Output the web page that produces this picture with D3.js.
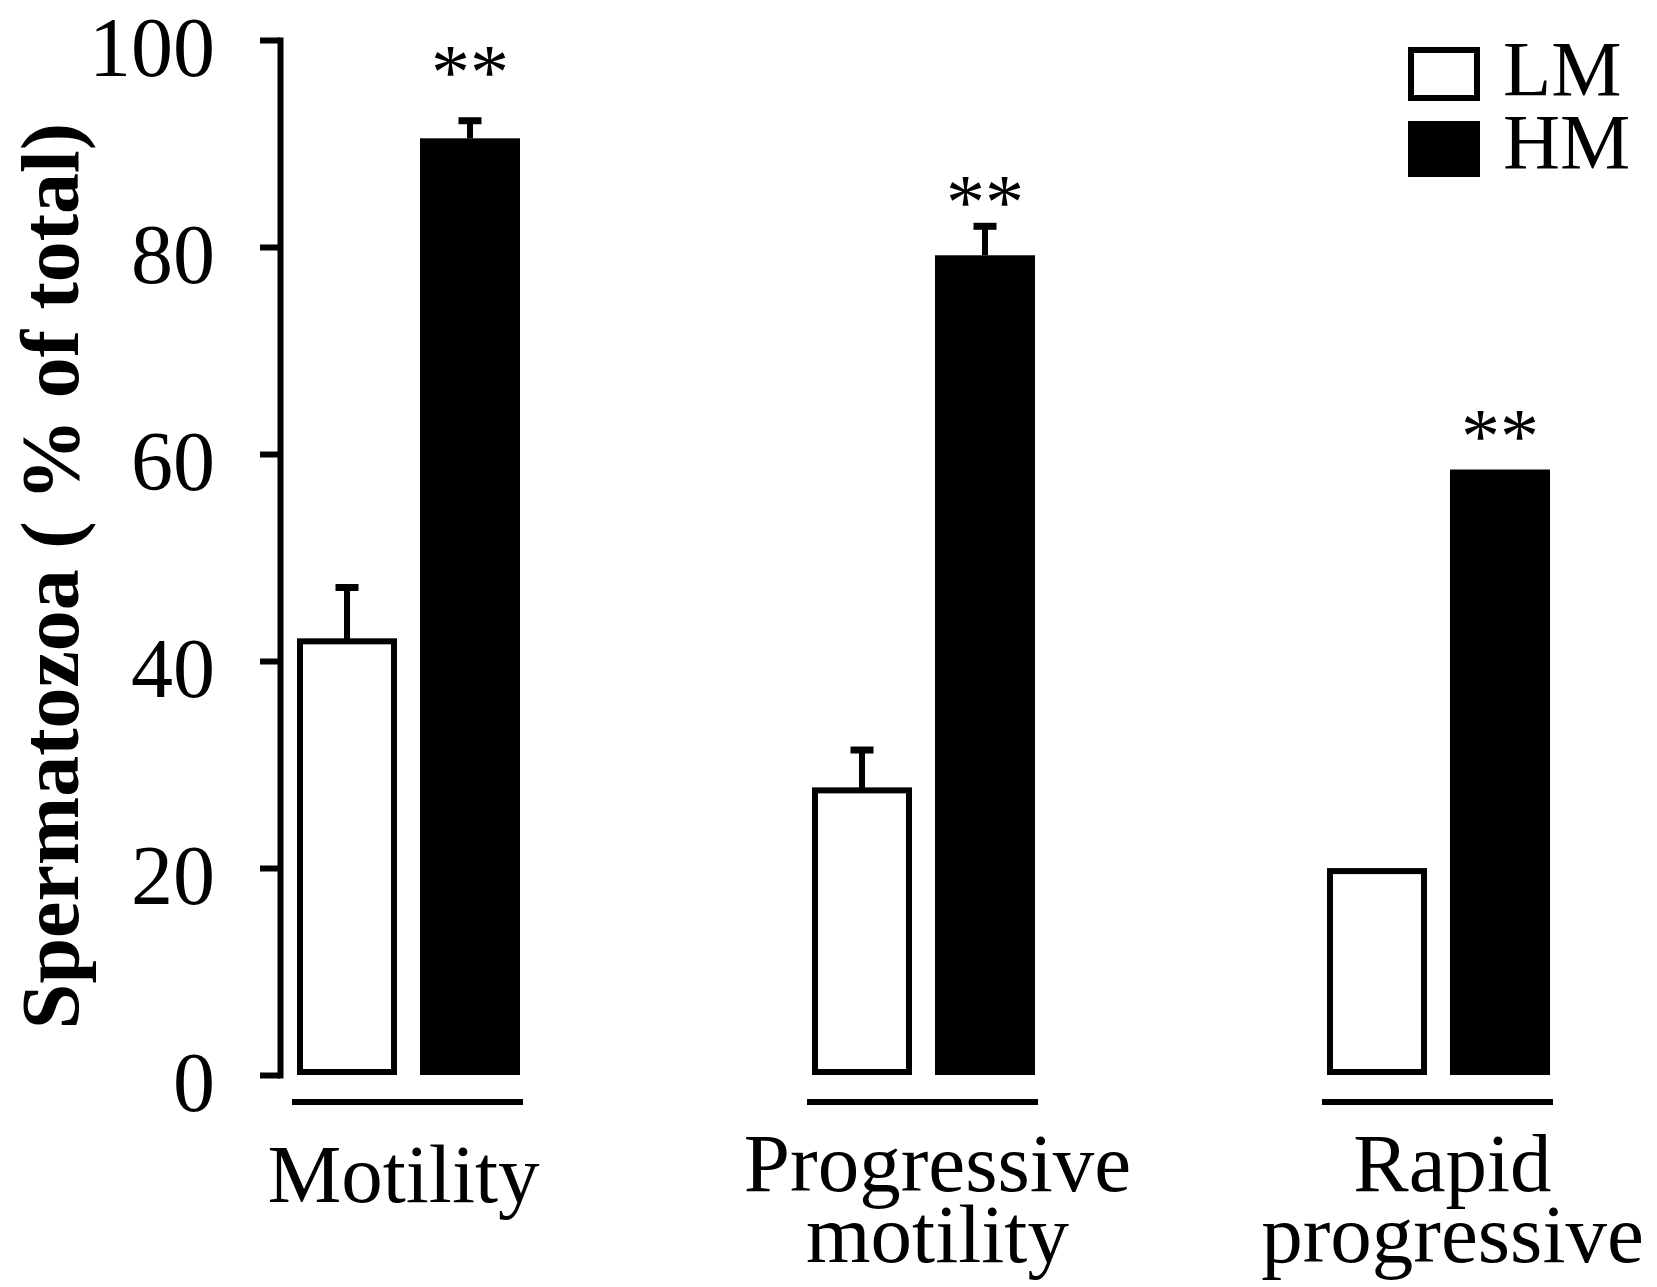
<!DOCTYPE html>
<html>
<head>
<meta charset="utf-8">
<script src="https://cdn.jsdelivr.net/npm/d3@7"></script>
<style>
  html, body { margin: 0; padding: 0; background: #fff; }
  svg { display: block; font-family: "Liberation Serif", "Times New Roman", serif; }
</style>
</head>
<body>
<div id="chart"></div>
<script>
// Values
const categories = ["Motility", "Progressive motility", "Rapid progressive"];
const categoryLines = [["Motility"], ["Progressive", "motility"], ["Rapid", "progressive"]];
const groups = ["LM", "HM"];
const lmValues = [41.9, 27.5, 19.7];
const lmErrors = [5.2, 3.9, 0];
const hmValues = [90.5, 79.2, 58.5];
const hmErrors = [1.7, 2.8, 0];
const sigLabels = ["**", "**", "**"];
const sigLevels = [94.4, 81.8, 59.2]; // height of the ** marks, in % units
const yTicks = [0, 20, 40, 60, 80, 100];
const yLabel = "Spermatozoa ( % of total)";

const width = 1657;
const height = 1287;
const stroke = 6;

const svg = d3.select("#chart")
  .append("svg")
  .attr("width", width)
  .attr("height", height);

// Scales
const x = d3.scaleBand()
  .domain(categories)
  .range([297, 1550])
  .paddingInner(0.567)
  .paddingOuter(0);
const xSub = d3.scaleBand()
  .domain(groups)
  .range([0, x.bandwidth()])
  .paddingInner(0.187);
const y = d3.scaleLinear()
  .domain([0, 100])
  .range([1075, 40]);

// Y axis
const yAxis = svg.append("g")
  .attr("transform", "translate(280,0)")
  .call(d3.axisLeft(y)
    .tickValues(yTicks)
    .tickSize(20)
    .tickSizeOuter(0)
    .tickPadding(45));
yAxis.attr("font-family", null).attr("font-size", null);
yAxis.select(".domain")
  .attr("stroke", "#000")
  .attr("stroke-width", stroke)
  .attr("stroke-linecap", "square");
yAxis.selectAll(".tick line")
  .attr("stroke", "#000")
  .attr("stroke-width", stroke);
yAxis.selectAll(".tick text")
  .attr("fill", "#000")
  .attr("font-size", 84)
  .attr("dy", "0.42em");

// Axis title
svg.append("text")
  .attr("transform", "translate(78,576) rotate(-90)")
  .attr("text-anchor", "middle")
  .attr("font-size", 82)
  .attr("font-weight", "bold")
  .text(yLabel);

// Bars
const rows = categories.map((c, i) => ({
  cat: c,
  lm: lmValues[i], lmErr: lmErrors[i],
  hm: hmValues[i], hmErr: hmErrors[i],
  sig: sigLabels[i], sigLevel: sigLevels[i],
  lines: categoryLines[i]
}));

const g = svg.append("g");
const bw = xSub.bandwidth();

rows.forEach(d => {
  const x0 = x(d.cat);
  const lmX = x0 + xSub("LM");
  const hmX = x0 + xSub("HM");

  // error bars (drawn first so the bars sit on top of the stems)
  [[lmX, d.lm, d.lmErr], [hmX, d.hm, d.hmErr]].forEach(([bx, v, e]) => {
    if (!e) return;
    const cx = bx + bw / 2;
    g.append("line")
      .attr("x1", cx).attr("x2", cx)
      .attr("y1", y(v)).attr("y2", y(v + e))
      .attr("stroke", "#000").attr("stroke-width", 6);
    g.append("line")
      .attr("x1", cx - 11.5).attr("x2", cx + 11.5)
      .attr("y1", y(v + e)).attr("y2", y(v + e))
      .attr("stroke", "#000").attr("stroke-width", 7);
  });

  g.append("rect")
    .attr("x", lmX + stroke / 2)
    .attr("y", y(d.lm))
    .attr("width", bw - stroke)
    .attr("height", y(0) - stroke / 2 - y(d.lm))
    .attr("fill", "#fff")
    .attr("stroke", "#000")
    .attr("stroke-width", stroke);

  g.append("rect")
    .attr("x", hmX)
    .attr("y", y(d.hm))
    .attr("width", bw)
    .attr("height", y(0) - y(d.hm))
    .attr("fill", "#000");

  // significance marks
  g.append("text")
    .attr("x", hmX + bw / 2)
    .attr("y", y(d.sigLevel))
    .attr("text-anchor", "middle")
    .attr("font-size", 78)
    .text(d.sig);

  // group underline
  g.append("line")
    .attr("x1", x0 - 5)
    .attr("x2", x0 + x.bandwidth() + 3)
    .attr("y1", 1102).attr("y2", 1102)
    .attr("stroke", "#000")
    .attr("stroke-width", stroke);

  // category label
  const first = d.lines.length === 1 ? 1202 : 1191;
  const t = g.append("text")
    .attr("text-anchor", "middle")
    .attr("font-size", 83);
  d.lines.forEach((ln, j) => {
    t.append("tspan")
      .attr("x", x0 + x.bandwidth() / 2 + (d.lines.length > 1 ? 14 : -5))
      .attr("y", first + j * 71)
      .text(ln);
  });
});

// Legend
const legend = svg.append("g").attr("transform", "translate(1408,47)");
legend.append("rect")
  .attr("x", stroke / 2).attr("y", stroke / 2)
  .attr("width", 72 - stroke).attr("height", 54 - stroke)
  .attr("fill", "#fff").attr("stroke", "#000").attr("stroke-width", stroke);
legend.append("rect")
  .attr("x", 0).attr("y", 74)
  .attr("width", 72).attr("height", 56)
  .attr("fill", "#000");
groups.forEach((name, i) => {
  legend.append("text")
    .attr("x", 95)
    .attr("y", 48 + i * 73)
    .attr("font-size", 79)
    .text(name);
});
</script>
</body>
</html>
